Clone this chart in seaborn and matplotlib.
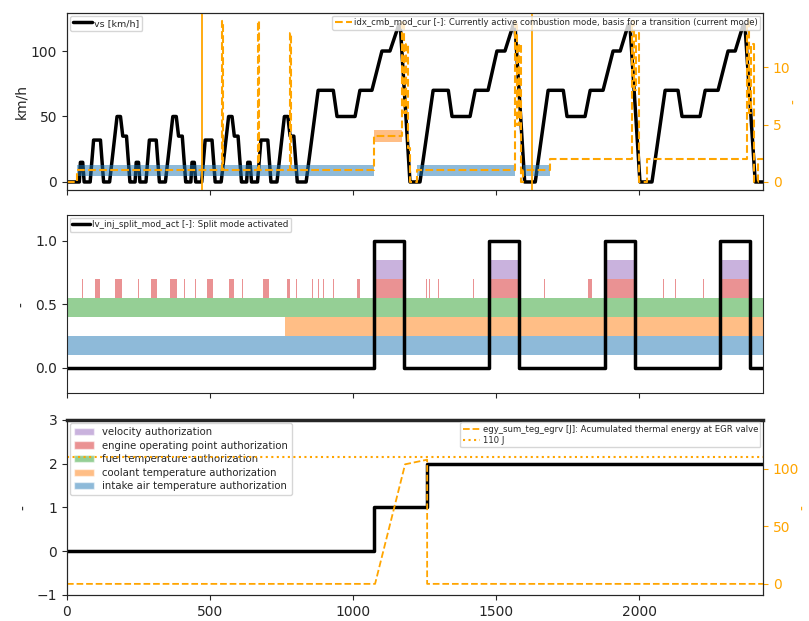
import matplotlib
matplotlib.use("Agg")
import matplotlib.pyplot as plt
from matplotlib.patches import Patch
import numpy as np
import seaborn as sns

# vehicle speed breakpoints (4 urban cycles + 4 extra-urban cycles)
t_vs = [0,
        32, 43, 47, 55, 60, 81, 93, 117, 128, 149, 175, 187, 195, 208, 220,
        227, 238, 242, 250, 255, 276, 288, 312, 323, 344, 370, 382, 390, 403, 415,
        422, 433, 437, 445, 450, 471, 483, 507, 518, 539, 565, 577, 585, 598, 610,
        617, 628, 632, 640, 645, 666, 678, 702, 713, 734, 760, 772, 780, 793, 805,
        836, 878, 931, 944, 1007, 1024, 1066, 1101, 1129, 1160, 1165, 1199,
        1234, 1280, 1333, 1346, 1409, 1427, 1472, 1503, 1531, 1560, 1566, 1600,
        1637, 1682, 1735, 1748, 1811, 1829, 1874, 1909, 1934, 1962, 1968, 2003,
        2045, 2091, 2136, 2150, 2213, 2231, 2276, 2311, 2336, 2364, 2370, 2406,
        2435]
vs = [0,
      0, 0, 15, 15, 0, 0, 32, 32, 0, 0, 50, 50, 35, 35, 0,
      0, 0, 15, 15, 0, 0, 32, 32, 0, 0, 50, 50, 35, 35, 0,
      0, 0, 15, 15, 0, 0, 32, 32, 0, 0, 50, 50, 35, 35, 0,
      0, 0, 15, 15, 0, 0, 32, 32, 0, 0, 50, 50, 35, 35, 0,
      0, 70, 70, 50, 50, 70, 70, 100, 100, 120, 120, 0,
      0, 70, 70, 50, 50, 70, 70, 100, 100, 120, 120, 0,
      0, 70, 70, 50, 50, 70, 70, 100, 100, 120, 120, 0,
      0, 70, 70, 50, 50, 70, 70, 100, 100, 120, 120, 0,
      0]

# current combustion mode (step signal)
t_idx = [0, 35, 542, 545, 668, 671, 780, 783, 1075, 1171, 1178, 1185, 1192, 1199,
         1224, 1566, 1574, 1580, 1587, 1594, 1689, 1975, 1983, 1990, 2000, 2028,
         2378, 2385, 2392, 2400, 2416, 2435]
idx_mode = [0, 1, 14, 1, 14, 1, 13, 1, 4, 14, 6, 12, 3, 0,
            1, 14, 5, 12, 0, 1, 2, 14, 8, 13, 0, 2,
            14, 6, 12, 0, 2, 2]
t_mode_marks = [472, 1626]

# split mode activation
t_split = [0, 1073, 1178, 1476, 1580, 1881, 1986, 2283, 2388, 2435]
split_act = [0, 1, 0, 1, 0, 1, 0, 1, 0, 0]

# authorization windows [s]
intake_on = [(0, 2435)]
coolant_on = [(762, 2435)]
fuel_on = [(0, 2435)]
eop_on = [(54, 57), (98, 115), (168, 192), (212, 215), (247, 250), (294, 315),
          (360, 385), (408, 411), (447, 450), (490, 510), (566, 584), (611, 614),
          (642, 645), (685, 706), (769, 780), (800, 803), (848, 850), (858, 860),
          (869, 871), (878, 880), (887, 889), (895, 897), (905, 907), (929, 932),
          (1014, 1024), (1073, 1178), (1255, 1257), (1267, 1269), (1278, 1280),
          (1296, 1299), (1419, 1422), (1476, 1580), (1659, 1661), (1668, 1670),
          (1680, 1683), (1729, 1732), (1822, 1836), (1881, 1986), (2048, 2050),
          (2061, 2063), (2072, 2074), (2084, 2086), (2096, 2098), (2125, 2128),
          (2223, 2226), (2261, 2263), (2283, 2388)]
velocity_on = [(1073, 1178), (1476, 1580), (1881, 1986), (2283, 2388)]

# bottom panel
t_state = [0, 1075, 1259, 2435]
state = [0, 1, 2, 2]
t_egy = [0, 1077, 1182, 1259, 1259, 2435]
egy = [0, 0, 104, 108, 0, 0]
t_thr = [0, 2435]
thr = [110, 110]

auth_names = ["velocity authorization", "engine operating point authorization",
              "fuel temperature authorization", "coolant temperature authorization",
              "intake air temperature authorization"]
auth_colors = ["tab:purple", "tab:red", "tab:green", "tab:orange", "tab:blue"]

sns.set_style("ticks")
plt.rcParams["font.family"] = ["DejaVu Sans"]
ORANGE = "orange"
TICK_FS = 10
LEG_FS = 6.1

fig = plt.figure(figsize=(8.09, 6.21), dpi=100)
ax1 = fig.add_axes([0.0828, 0.694, 0.8603, 0.285])
ax2 = fig.add_axes([0.0828, 0.367, 0.8603, 0.2866], sharex=ax1)
ax3 = fig.add_axes([0.0828, 0.042, 0.8603, 0.2818], sharex=ax1)

leg_kw = dict(handlelength=2, borderpad=0.3, handletextpad=0.3, borderaxespad=0.3)

# ---- top: speed + combustion mode
sns.lineplot(x=t_vs, y=vs, ax=ax1, color="black", lw=2.5, label="vs [km/h]",
             estimator=None, sort=False)
ax1.set_ylim(-6.15, 129)
ax1.set_yticks([0, 50, 100])
ax1.set_ylabel("km/h", fontsize=TICK_FS, labelpad=2)
ax1.legend(loc="upper left", fontsize=6.8, **leg_kw)

ax1r = ax1.twinx()
t_idx_a = np.array(t_idx)
idx_a = np.array(idx_mode)
for level, col in [(1, "tab:blue"), (4, "tab:orange")]:
    m = idx_a == level
    m_ext = m | np.concatenate([[False], m[:-1]])
    ax1r.fill_between(t_idx_a, level - 0.5, level + 0.5, where=m_ext, step="post",
                      color=col, alpha=0.5, lw=0)
for tm in t_mode_marks:
    ax1r.axvline(tm, color=ORANGE, lw=1.3)
sns.lineplot(x=t_idx, y=idx_mode, ax=ax1r, color=ORANGE, lw=1.5, ls="--",
             drawstyle="steps-post", estimator=None, sort=False,
             label="idx_cmb_mod_cur [-]: Currently active combustion mode, basis for a transition (current mode)")
ax1r.set_ylim(-0.7, 14.7)
ax1r.set_yticks([0, 5, 10])
ax1r.set_ylabel("-", color=ORANGE, fontsize=TICK_FS, labelpad=-2)
ax1r.tick_params(axis="y", colors=ORANGE, labelsize=TICK_FS)
ax1r.legend(loc="upper right", fontsize=LEG_FS, **leg_kw)

# ---- middle: authorizations + split mode
bands = [(intake_on, 0.10, "tab:blue"), (coolant_on, 0.25, "tab:orange"),
         (fuel_on, 0.40, "tab:green"), (eop_on, 0.55, "tab:red"),
         (velocity_on, 0.70, "tab:purple")]
for spans, lo, col in bands:
    for s, e in spans:
        ax2.fill_between([s, e], lo, lo + 0.15, color=col, alpha=0.5, lw=0)
sns.lineplot(x=t_split, y=split_act, ax=ax2, color="black", lw=2.5,
             drawstyle="steps-post", estimator=None, sort=False,
             label="lv_inj_split_mod_act [-]: Split mode activated")
ax2.set_ylim(-0.2, 1.2)
ax2.set_yticks([0, 0.5, 1.0])
ax2.set_ylabel("-", fontsize=TICK_FS)
ax2.legend(loc="upper left", fontsize=6.3, **leg_kw)

# ---- bottom: state + accumulated energy
sns.lineplot(x=t_state, y=state, ax=ax3, color="black", lw=2.5,
             drawstyle="steps-post", estimator=None, sort=False, legend=False)
ax3.set_ylim(-1, 3)
ax3.set_yticks([-1, 0, 1, 2, 3])
ax3.set_ylabel("-", fontsize=TICK_FS)
ax3.spines["top"].set_linewidth(2.5)
handles = [Patch(facecolor=c, alpha=0.5, label=n) for n, c in zip(auth_names, auth_colors)]
ax3.legend(handles=handles, loc="upper left", fontsize=7.3, borderpad=0.4,
           handletextpad=0.8, borderaxespad=0.3, labelspacing=0.35)

ax3r = ax3.twinx()
sns.lineplot(x=t_egy, y=egy, ax=ax3r, color=ORANGE, lw=1.3, ls="--",
             estimator=None, sort=False,
             label="egy_sum_teg_egrv [J]: Acumulated thermal energy at EGR valve")
sns.lineplot(x=t_thr, y=thr, ax=ax3r, color=ORANGE, lw=1.5, ls=":",
             estimator=None, sort=False, label="110 J")
ax3r.set_ylim(-9.6, 142.6)
ax3r.set_yticks([0, 50, 100])
ax3r.set_ylabel("-", color=ORANGE, fontsize=TICK_FS, labelpad=-2)
ax3r.tick_params(axis="y", colors=ORANGE, labelsize=TICK_FS)
ax3r.legend(loc="upper right", fontsize=LEG_FS, labelspacing=0.2, **leg_kw)

ax1.set_xlim(0, 2433)
ax3.set_xticks([0, 500, 1000, 1500, 2000])
for ax in (ax1, ax2):
    plt.setp(ax.get_xticklabels(), visible=False)
for ax in (ax1, ax2, ax3):
    ax.tick_params(labelsize=TICK_FS)
    ax.set_xlabel("")

fig.savefig("out.png", dpi=100)
